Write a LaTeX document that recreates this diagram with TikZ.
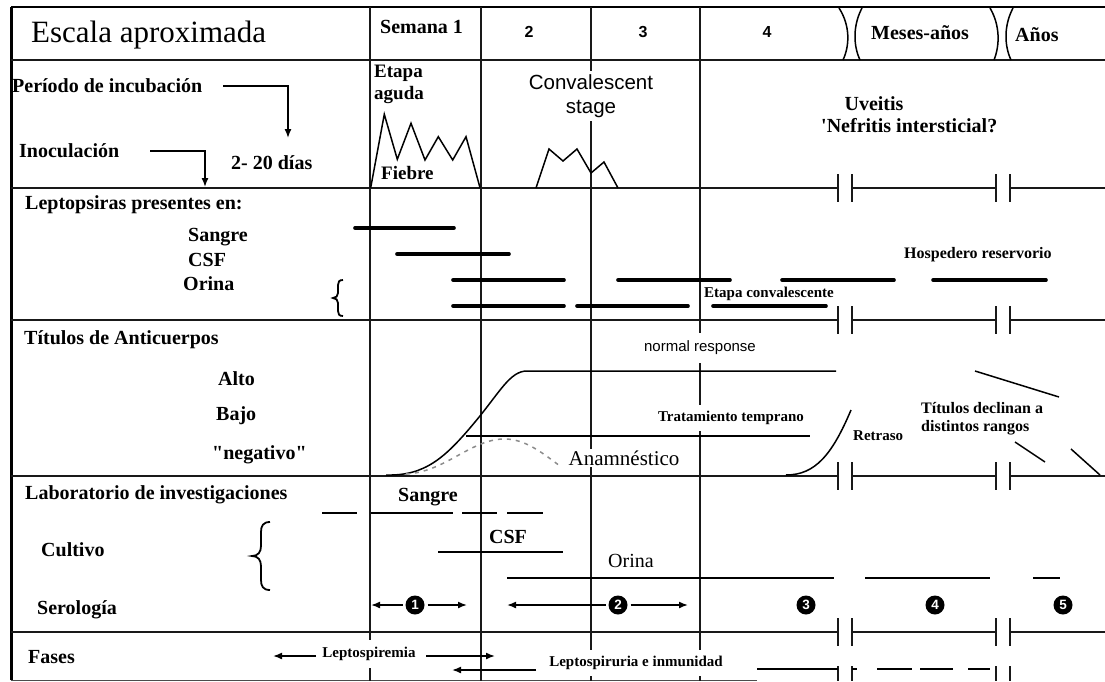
\documentclass[tikz,border=0pt]{standalone}
\usepackage{fontspec}
\setmainfont{Liberation Serif}
\newfontfamily\sansf{Liberation Sans}
\usetikzlibrary{arrows.meta}
\begin{document}
\begin{tikzpicture}[x=1pt,y=-1pt,
  gridline/.style={line width=1.6pt, draw=black!90},
  rowline/.style={line width=1.5pt, draw=black!90},
  tickln/.style={line width=1.5pt, draw=black!90},
  curveln/.style={line width=1.5pt, draw=black},
  lepbar/.style={line width=3.6pt, line cap=round},
  labln/.style={line width=1.6pt},
  lbl/.style={font=\fontsize{20}{23}\selectfont\bfseries, inner sep=0pt},
  smalllbl/.style={font=\fontsize{15}{18}\selectfont\bfseries, inner sep=1pt},
  sanslbl/.style={font=\sansf\fontsize{15}{18}\selectfont, inner sep=1pt},
  weeklbl/.style={font=\sansf\bfseries\fontsize{16}{18}\selectfont},
  wbox/.style={fill=white, inner xsep=2pt, inner ysep=1pt},
  numc/.style={circle, fill=black, text=white, font=\sansf\bfseries\fontsize{13.5}{14}\selectfont, inner sep=0pt, minimum size=19pt, outer sep=3pt},
  arr/.style={-{Latex[length=9pt,width=7pt]}, line width=1.6pt},
  brace/.style={line width=1.8pt}
]
\fill[white] (0,0) rectangle (1105,681);
\useasboundingbox (0,0) rectangle (1105,681);

% ---------- frame and grid ----------
\draw[line width=2.6pt] (11,7) -- (1105,7);
\draw[line width=3pt] (11,7) -- (11,680);
\draw[rowline] (11,60) -- (1105,60);
\foreach \yy in {188,320,476,632} {
  \draw[rowline] (11,\yy) -- (838,\yy) (852,\yy) -- (996,\yy) (1010,\yy) -- (1105,\yy);
  \foreach \xx in {838,852,996,1010} {\draw[tickln] ({\xx},{\yy-14}) -- ({\xx},{\yy+14});}
}
\foreach \xx in {838,852,996,1010} {\draw[tickln] (\xx,666) -- (\xx,681);}
\draw[line width=1pt, black!70] (11,680) -- (757,680);
\foreach \xx in {370,481,591,700} {\draw[gridline] (\xx,7) -- (\xx,681);}

% header waves
\draw[curveln] (839,8) .. controls (850,25) and (850,45) .. (843,60);
\draw[curveln] (862,8) .. controls (853,25) and (853,45) .. (860,60);
\draw[curveln] (990,8) .. controls (1000,25) and (1000,45) .. (994,60);
\draw[curveln] (1013,8) .. controls (1004,25) and (1004,45) .. (1011,60);

% ---------- header ----------
\node[anchor=west, inner sep=0pt, font=\fontsize{31}{36}\selectfont] (esc) at (31,35) {Escala aproximada};
\node[lbl, anchor=west] (sem) at (380,27) {Semana 1};
\node[weeklbl] (w2) at (529,32) {2};
\node[weeklbl] (w3) at (643,32) {3};
\node[weeklbl] (w4) at (767,32) {4};
\node[lbl, anchor=west] (mes) at (871,33) {Meses-años};
\node[lbl, anchor=west] (anos) at (1015,35) {Años};

% ---------- row 1 ----------
\node[lbl, anchor=west] (per) at (12,86) {Período de incubación};
\coordinate (perA) at (223,86);
\coordinate (perB) at (288,138);
\draw[arr, line width=1.4pt] (perA) -| (perB);
\node[lbl, anchor=west] (ino) at (19,151) {Inoculación};
\coordinate (inoA) at (150,151);
\coordinate (inoB) at (205,187);
\draw[arr, line width=1.4pt] (inoA) -| (inoB);
\node[lbl, anchor=west] (dias) at (231,163) {2- 20 días};
\node[anchor=west, align=left, inner sep=0pt, font=\fontsize{19}{22}\selectfont\bfseries] (etapa) at (374,84) {Etapa\\aguda};
\draw[curveln, line join=miter] (370.7,187.7) -- (384.3,114.3) -- (397.3,159.3) -- (411,123.3) -- (425,160) -- (438.3,136.7) -- (452.7,160) -- (466,136.7) -- (480,187.7);
\node[anchor=west, inner sep=0pt, font=\fontsize{19}{22}\selectfont\bfseries] (fiebre) at (381,173) {Fiebre};
\node[wbox, align=center, inner ysep=3pt, font=\sansf\fontsize{20.5}{24}\selectfont] (conv) at (591,96) {Convalescent\\stage};
\draw[curveln] (536,188) -- (549,149) -- (563,161) -- (577,149) -- (591,173) -- (604,162) -- (618,188);
\node[lbl] (uve) at (874,104) {Uveitis};
\node[lbl, anchor=west] (nef) at (821,126) {\textquotesingle Nefritis intersticial?};

% ---------- row 2 ----------
\node[lbl, anchor=west] (lept) at (25,205) {Leptopsiras presentes en:};
\node[lbl, anchor=west] (sang) at (188,237) {Sangre};
\node[lbl, anchor=west] (csf) at (188,260) {CSF};
\node[lbl, anchor=west] (ori) at (183,284) {Orina};
\draw[brace] (343,280) .. controls (339,280) and (338,282) .. (338,285) -- (338,293) .. controls (338,296) and (336,298) .. (333,298) .. controls (336,298) and (338,300) .. (338,303) -- (338,311) .. controls (338,314) and (339,316) .. (343,316);
\draw[lepbar] (355,228) -- (454,228);
\draw[lepbar] (397,254) -- (509,254);
\draw[lepbar] (453,280) -- (564,280) (618,280) -- (730,280) (782,280) -- (894,280) (933,280) -- (1046,280);
\draw[lepbar] (453,306) -- (564,306) (577,306) -- (688,306) (713,306) -- (826,306);
\node[anchor=west, inner sep=0pt, font=\fontsize{16}{18}\selectfont\bfseries] (hosp) at (904,255) {Hospedero reservorio};
\node[anchor=west, inner sep=0pt, font=\fontsize{15}{18}\selectfont\bfseries] (etc) at (704,294) {Etapa convalescente};

% ---------- row 3 ----------
\node[lbl, anchor=west] (tit) at (24,340) {Títulos de Anticuerpos};
\node[lbl, anchor=west] (alto) at (218,379) {Alto};
\node[lbl, anchor=west] (bajo) at (216,416) {Bajo};
\node[lbl, anchor=west] (neg) at (212,455) {\textquotedbl negativo\textquotedbl};
\draw[curveln] (386,475) .. controls (425,476) and (445,458) .. (475,422) .. controls (500,392) and (510,371) .. (527,371) -- (836,371);
\draw[curveln] (466,436) -- (810,436);
\draw[line width=1.5pt, black!45, dash pattern=on 4pt off 5pt] (406,474) .. controls (445,472) and (470,440) .. (503,439) .. controls (525,438) and (545,455) .. (560,466);
\node[sanslbl, wbox, minimum height=30pt] (norm) at (700,348) {normal response};
\node[smalllbl, wbox, minimum height=26pt] (trat) at (731,418) {Tratamiento temprano};
\node[wbox, inner ysep=2pt, font=\fontsize{21}{24}\selectfont] (anam) at (624,458) {Anamnéstico};
\draw[curveln] (786,475) .. controls (815,475) and (832,455) .. (851,410);
\node[smalllbl, anchor=west] (retr) at (852,436) {Retraso};
\node[anchor=west, align=left, inner sep=0pt, font=\fontsize{16}{18}\selectfont\bfseries] (decl) at (921,419) {Títulos declinan a\\distintos rangos};
\draw[curveln] (975,371) -- (1059,397);
\draw[curveln] (1015,442) -- (1045,462);
\draw[curveln] (1071,449) -- (1100,475);

% ---------- row 4 ----------
\node[lbl, anchor=west] (lab) at (25,495) {Laboratorio de investigaciones};
\node[lbl, anchor=west] (cult) at (41,550) {Cultivo};
\node[lbl, anchor=west] (sero) at (37,610) {Serología};
\draw[brace] (270,522) .. controls (263,522) and (261,526) .. (261,532) -- (261,546) .. controls (261,552) and (258,556) .. (252,556) .. controls (258,556) and (261,560) .. (261,566) -- (261,580) .. controls (261,586) and (263,590) .. (270,590);
\node[lbl] (lsang) at (428,497) {Sangre};
\draw[labln] (322,513) -- (357,513) (371,513) -- (453,513) (462,513) -- (497,513) (507,513) -- (543,513);
\node[lbl] (lcsf) at (508,537) {CSF};
\draw[labln] (438,552) -- (563,552);
\node[inner sep=0pt, font=\fontsize{20}{23}\selectfont] (lori) at (631,561) {Orina};
\draw[labln] (507,578) -- (834,578) (865,578) -- (990,578) (1033,578) -- (1060,578);
\node[numc] (n1) at (415,605) {1};
\coordinate (n1l) at (371,605);
\coordinate (n1r) at (467,605);
\draw[arr] (n1) -- (n1l);
\draw[arr] (n1) -- (n1r);
\node[numc] (n2) at (618,605) {2};
\coordinate (n2l) at (507,605);
\coordinate (n2r) at (688,605);
\draw[arr] (n2) -- (n2l);
\draw[arr] (n2) -- (n2r);
\node[numc] (n3) at (806,605) {3};
\node[numc] (n4) at (935,605) {4};
\node[numc] (n5) at (1063,605) {5};

% ---------- row 5 ----------
\node[lbl, anchor=west] (fases) at (28,657) {Fases};
\node[wbox, minimum height=28pt, inner xsep=3pt, font=\fontsize{15}{18}\selectfont\bfseries] (lsp) at (369,654) {Leptospiremia};
\coordinate (lspA) at (316,656);
\coordinate (lspB) at (273,656);
\coordinate (lspC) at (426,656);
\coordinate (lspD) at (495,656);
\draw[arr] (lspA) -- (lspB);
\draw[arr] (lspC) -- (lspD);
\coordinate (lsuA) at (536,670);
\coordinate (lsuB) at (452,670);
\draw[arr] (lsuA) -- (lsuB);
\node[wbox, minimum height=26pt, font=\fontsize{15}{18}\selectfont\bfseries] (lsu) at (636,663) {Leptospiruria e inmunidad};
\draw[labln] (757,669) -- (838,669);
\draw[labln] (852,669) -- (857,669) (877,669) -- (912,669) (920,669) -- (953,669) (968,669) -- (990,669);
\end{tikzpicture}
\end{document}
